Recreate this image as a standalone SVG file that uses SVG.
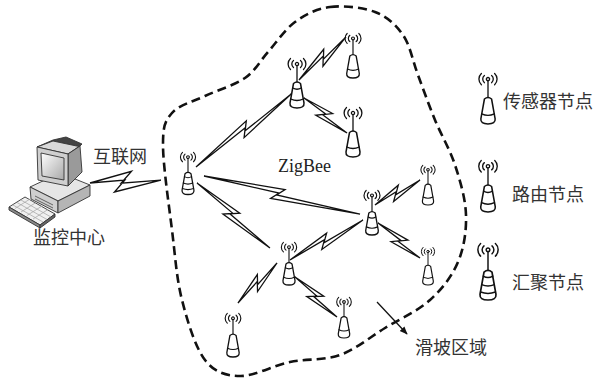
<svg xmlns="http://www.w3.org/2000/svg" xmlns:xlink="http://www.w3.org/1999/xlink" width="600" height="379" viewBox="0 0 600 379">
  <style>
    .lbl { font-family: "Noto Sans CJK SC", "Noto Sans", sans-serif; font-size: 18px; fill: #333; }
    .latin { font-family: "Liberation Serif", serif; font-size: 18px; fill: #222; }
    .link { fill: #fff; stroke: #111; stroke-width: 1.3; stroke-linejoin: miter; }
    .boundary { fill: none; stroke: #111; stroke-width: 2.6; stroke-dasharray: 9 5; }
    .ic { fill: none; stroke: #111; stroke-width: 1.3; stroke-linecap: round; }
    .ic-body { fill: #fff; stroke: #111; stroke-width: 1.5; stroke-linejoin: round; }
    .pc { stroke: #333; stroke-width: 0.9; stroke-linejoin: round; }
  </style>
  <defs>
    <linearGradient id="screen" x1="0" y1="0" x2="1" y2="1">
      <stop offset="0" stop-color="#ffffff"/>
      <stop offset="1" stop-color="#a8a8a8"/>
    </linearGradient>
    <marker id="arrow" viewBox="0 0 10 10" refX="9" refY="5" markerWidth="8" markerHeight="8" orient="auto" markerUnits="userSpaceOnUse">
      <path d="M0,1 L10,5 L0,9 Z" fill="#111"/>
    </marker>
    <!-- antenna waves + mast, shared by all tower icons -->
    <g id="antenna">
      <circle class="ic" cx="0" cy="6" r="1.6"/>
      <path class="ic" d="M-3.5,2.5 A4.5,4.5 0 0 0 -3.5,9.5 M3.5,2.5 A4.5,4.5 0 0 1 3.5,9.5"/>
      <path class="ic" d="M-6.5,0.5 A7.5,7.5 0 0 0 -6.5,11.5 M6.5,0.5 A7.5,7.5 0 0 1 6.5,11.5"/>
      <path class="ic" d="M0,7.6 V25"/>
      <path class="ic-body" d="M-3.5,25.5 Q0,22.5 3.5,25.5 L7,45 Q7.5,50 0,50 Q-7.5,50 -7,45 Z"/>
    </g>
    <g id="sensor">
      <use xlink:href="#antenna"/>
      <path class="ic" d="M-6.2,40 Q0,43 6.2,40"/>
    </g>
    <g id="router">
      <use xlink:href="#antenna"/>
      <path class="ic" d="M-4.2,30 Q0,32.5 4.2,30"/>
      <path class="ic" d="M-6.2,41 Q0,44 6.2,41"/>
    </g>
    <g id="sink">
      <use xlink:href="#antenna"/>
      <path class="ic" d="M-4.2,29 Q0,31.5 4.2,29"/>
      <path class="ic" d="M-5.5,36.5 Q0,39 5.5,36.5"/>
      <path class="ic" d="M-6.5,43 Q0,45.5 6.5,43"/>
    </g>
  </defs>

  <rect width="600" height="379" fill="#fff"/>

  <!-- landslide area boundary -->
  <path id="landslide-area" class="boundary" d="M330,7 C343.3,5.3 362.8,7.3 375,12 C387.2,16.7 395.8,24.5 403,35 C410.2,45.5 412.7,60.8 418,75 C423.3,89.2 428.8,105 435,120 C441.2,135 449.8,149.2 455,165 C460.2,180.8 465.5,198.8 466,215 C466.5,231.2 464,247.8 458,262 C452,276.2 442.2,289 430,300 C417.8,311 400,318.8 385,328 C370,337.2 355.8,349.3 340,355 C324.2,360.7 306.7,358.5 290,362 C273.3,365.5 254.2,376.3 240,376 C225.8,375.7 214.7,372.7 205,360 C195.3,347.3 187.5,321.7 182,300 C176.5,278.3 175.2,255.8 172,230 C168.8,204.2 163,164.5 163,145 C163,125.5 165,121.2 172,113 C179,104.8 192.8,101.8 205,96 C217.2,90.2 234.5,85.3 245,78 C255.5,70.7 259.7,61.3 268,52 C276.3,42.7 284.7,29.5 295,22 C305.3,14.5 316.7,8.7 330,7 Z"/>

  <!-- wireless links -->
  <g id="links">
    <g transform="translate(90,183) rotate(-2.4)"><path class="link" d="M0,0 L42,-10 L31,1.5 L71,0 L24,10 L35,-1.5 Z"/></g>
    <g transform="translate(196,167) rotate(-37.5)"><path class="link" d="M0,0 L68,-6 L61,1.2 L120,0 L56,6 L63,-1.2 Z"/></g>
    <g transform="translate(204,176) rotate(13.7)"><path class="link" d="M0,0 L82,-6 L75,1.2 L160.6,0 L70,6 L77,-1.2 Z"/></g>
    <g transform="translate(197,183) rotate(41.7)"><path class="link" d="M0,0 L52,-6 L45,1.2 L97.7,0 L40,6 L47,-1.2 Z"/></g>
    <g transform="translate(299,80) rotate(-42.5)"><path class="link" d="M0,0 L39,-6 L32,1.2 L63.7,0 L27,6 L34,-1.2 Z"/></g>
    <g transform="translate(304,98) rotate(39.1)"><path class="link" d="M0,0 L32,-6 L25,1.2 L55.4,0 L20,6 L27,-1.2 Z"/></g>
    <g transform="translate(375,205) rotate(-29.1)"><path class="link" d="M0,0 L30,-6 L23,1.2 L51.5,0 L18,6 L25,-1.2 Z"/></g>
    <g transform="translate(378,223) rotate(39.8)"><path class="link" d="M0,0 L34,-6 L27,1.2 L54.7,0 L22,6 L29,-1.2 Z"/></g>
    <g transform="translate(290,260) rotate(-28.7)"><path class="link" d="M0,0 L45,-6 L38,1.2 L83.2,0 L33,6 L40,-1.2 Z"/></g>
    <g transform="translate(277,263) rotate(134.3)"><path class="link" d="M0,0 L34,-6 L27,1.2 L55.9,0 L22,6 L29,-1.2 Z"/></g>
    <g transform="translate(295,277) rotate(43.6)"><path class="link" d="M0,0 L34,-6 L27,1.2 L58,0 L22,6 L29,-1.2 Z"/></g>
    <line x1="377" y1="302" x2="407" y2="334" stroke="#111" stroke-width="1.2" marker-end="url(#arrow)"/>
  </g>

  <!-- monitoring centre workstation -->
  <g id="monitoring-center">
    <polygon class="pc" points="9,207 25,197 55,214 40,225" fill="#f0f0f0"/>
    <polygon class="pc" points="9,207 40,225 40,228 9,210" fill="#8a8a8a"/>
    <polygon class="pc" points="40,225 55,214 55,217 40,228" fill="#666"/>
    <path d="M13,205 L43,222 M17,202.5 L47,219.5 M21,200 L51,217 M15,208.5 L30,199 M21,212 L36,202.5 M27,215.5 L42,206 M33,219 L48,209.5" stroke="#aaa" stroke-width="0.8" fill="none"/>
    <polygon class="pc" points="30,187 60,173 90,185 58,201" fill="#e6e6e6"/>
    <polygon class="pc" points="30,187 58,201 58,213 31,199" fill="#cfcfcf"/>
    <polygon class="pc" points="58,201 90,185 90,196 58,213" fill="#b5b5b5"/>
    <path d="M35,196 L53,205 M35,199 L53,208" stroke="#555" stroke-width="0.9"/>
    <polygon class="pc" points="53,140 66,137 82,144 80,146 68,154 37,147" fill="#444"/>
    <polygon class="pc" points="37,147 53,141 79,146.5 68,154" fill="#d9d9d9"/>
    <polygon class="pc" points="68,154 80,146 82,172 68,186" fill="#9a9a9a"/>
    <polygon class="pc" points="37,147 68,154 68,186 38,180" fill="#cfcfcf"/>
    <polygon class="pc" points="41,153 64,158 64,180 42,176" fill="url(#screen)"/>
    <text class="lbl" x="33" y="244">监控中心</text>
  </g>
  <text class="lbl" x="93" y="163">互联网</text>

  <!-- network nodes -->
  <g id="node-sink"><use xlink:href="#sink" transform="translate(188,152) scale(0.85)"/></g>
  <g id="node-router-1"><use xlink:href="#router" transform="translate(297,58)"/></g>
  <g id="node-sensor-1"><use xlink:href="#sensor" transform="translate(353,33) scale(0.9)"/></g>
  <g id="node-sensor-2"><use xlink:href="#sensor" transform="translate(353,107)"/></g>
  <g id="node-router-2"><use xlink:href="#router" transform="translate(372,190) scale(0.9)"/></g>
  <g id="node-sensor-3"><use xlink:href="#sensor" transform="translate(428,165) scale(0.8)"/></g>
  <g id="node-sensor-4"><use xlink:href="#sensor" transform="translate(428,247) scale(0.76)"/></g>
  <g id="node-router-3"><use xlink:href="#router" transform="translate(289,242) scale(0.86)"/></g>
  <g id="node-sensor-5"><use xlink:href="#sensor" transform="translate(233,313) scale(0.88)"/></g>
  <g id="node-sensor-6"><use xlink:href="#sensor" transform="translate(344,297) scale(0.82)"/></g>

  <text class="latin" x="278" y="172">ZigBee</text>
  <text class="lbl" x="415" y="354">滑坡区域</text>

  <!-- legend -->
  <g id="legend-sensor">
    <use xlink:href="#sensor" transform="translate(488,73) scale(1.02)"/>
    <text class="lbl" x="503" y="108">传感器节点</text>
  </g>
  <g id="legend-router">
    <use xlink:href="#router" transform="translate(488,160) scale(1.04)"/>
    <text class="lbl" x="512" y="201">路由节点</text>
  </g>
  <g id="legend-sink">
    <use xlink:href="#sink" transform="translate(488,243) scale(1.14)"/>
    <text class="lbl" x="512" y="289">汇聚节点</text>
  </g>
</svg>
